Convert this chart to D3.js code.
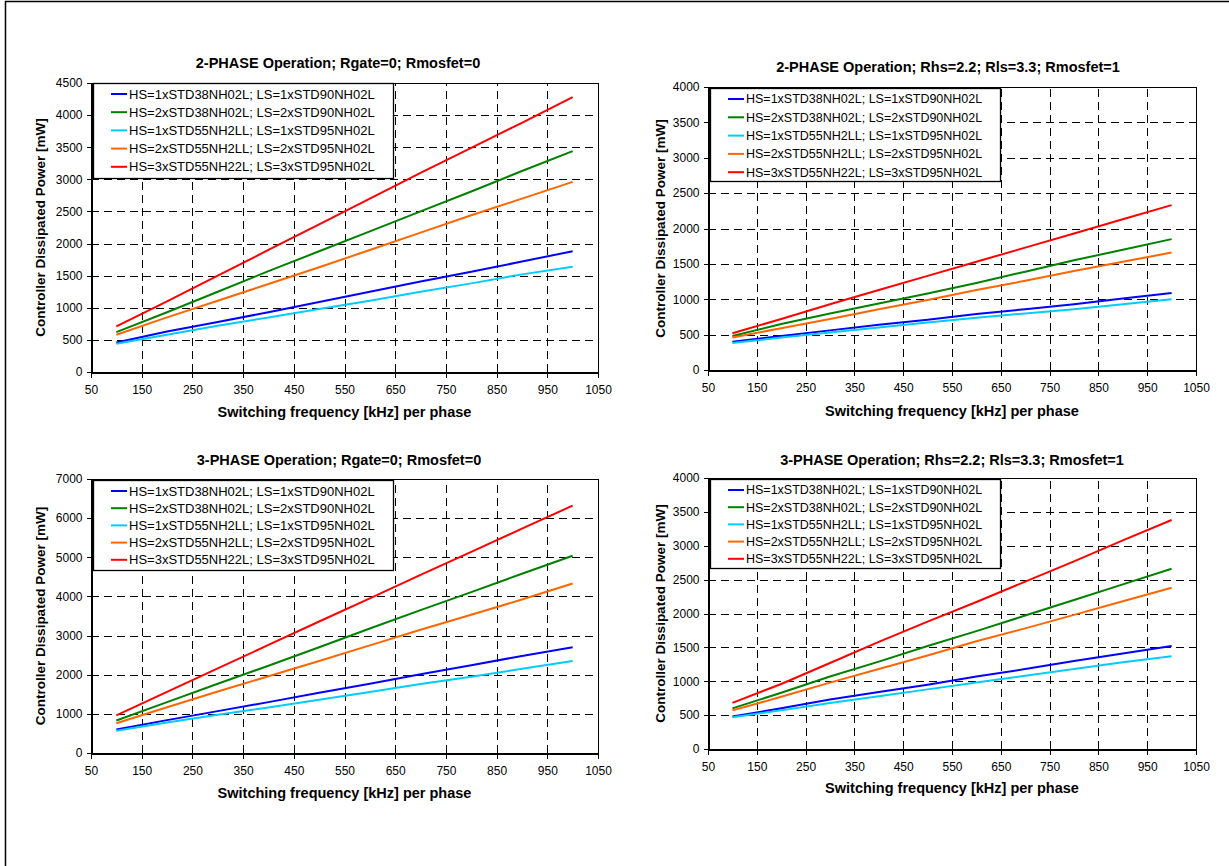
<!DOCTYPE html>
<html>
<head>
<meta charset="utf-8">
<script src="https://cdn.jsdelivr.net/npm/d3@7"></script>
<style>
	body { margin: 0; background: #fff; }
	svg { display: block; }
	text { font-family: Arial, "Liberation Sans", sans-serif; fill: #000; }
</style>
</head>
<body>
<div id="container"></div>
<script>

// ==============
//	DATA
// ==============

var freq = [100, 200, 300, 400, 500, 600, 700, 800, 900, 1000];

var seriesNames = [
	"HS=1xSTD38NH02L; LS=1xSTD90NH02L",
	"HS=2xSTD38NH02L; LS=2xSTD90NH02L",
	"HS=1xSTD55NH2LL; LS=1xSTD95NH02L",
	"HS=2xSTD55NH2LL; LS=2xSTD95NH02L",
	"HS=3xSTD55NH22L; LS=3xSTD95NH02L"
];

var xTicks = [50, 150, 250, 350, 450, 550, 650, 750, 850, 950, 1050];

var yTicks4500 = [0, 500, 1000, 1500, 2000, 2500, 3000, 3500, 4000, 4500];
var yTicks4000 = [0, 500, 1000, 1500, 2000, 2500, 3000, 3500, 4000];
var yTicks7000 = [0, 1000, 2000, 3000, 4000, 5000, 6000, 7000];

// 2-PHASE; Rgate=0; Rmosfet=0
var ph2a_1x38 = [460, 630, 780, 930, 1090, 1250, 1410, 1560, 1720, 1880];
var ph2a_2x38 = [620, 930, 1250, 1570, 1880, 2190, 2500, 2810, 3130, 3440];
var ph2a_1x55 = [440, 580, 720, 850, 980, 1110, 1250, 1380, 1520, 1640];
var ph2a_2x55 = [580, 850, 1110, 1370, 1630, 1900, 2170, 2440, 2700, 2960];
var ph2a_3x55 = [710, 1100, 1500, 1900, 2300, 2700, 3100, 3490, 3880, 4280];

// 2-PHASE; Rhs=2.2; Rls=3.3; Rmosfet=1
var ph2b_1x38 = [400, 480, 560, 640, 710, 790, 860, 930, 1010, 1090];
var ph2b_2x38 = [480, 650, 800, 940, 1080, 1230, 1390, 1550, 1700, 1850];
var ph2b_1x55 = [380, 460, 530, 600, 670, 740, 800, 860, 930, 1000];
var ph2b_2x55 = [460, 590, 720, 860, 990, 1130, 1260, 1400, 1530, 1660];
var ph2b_3x55 = [520, 720, 930, 1130, 1330, 1530, 1730, 1930, 2130, 2330];

// 3-PHASE; Rgate=0; Rmosfet=0
var ph3a_1x38 = [600, 840, 1070, 1300, 1540, 1770, 2010, 2240, 2480, 2700];
var ph3a_2x38 = [830, 1300, 1770, 2230, 2700, 3180, 3650, 4110, 4580, 5040];
var ph3a_1x55 = [570, 780, 980, 1160, 1360, 1560, 1760, 1950, 2150, 2350];
var ph3a_2x55 = [760, 1170, 1570, 1960, 2350, 2750, 3150, 3530, 3920, 4330];
var ph3a_3x55 = [960, 1560, 2160, 2760, 3360, 3950, 4550, 5140, 5730, 6320];

// 3-PHASE; Rhs=2.2; Rls=3.3; Rmosfet=1
var ph3b_1x38 = [480, 600, 730, 840, 950, 1070, 1180, 1300, 1410, 1520];
var ph3b_2x38 = [600, 830, 1070, 1290, 1520, 1740, 1970, 2200, 2430, 2660];
var ph3b_1x55 = [470, 570, 680, 780, 880, 980, 1080, 1180, 1280, 1370];
var ph3b_2x55 = [570, 770, 980, 1180, 1380, 1590, 1780, 1980, 2180, 2380];
var ph3b_3x55 = [680, 960, 1270, 1580, 1880, 2170, 2470, 2770, 3080, 3380];

// ==============
//	OPTIONS
// ==============

var W = 1229, H = 866;

var palSeries = ["#0000ff", "#008000", "#00ccff", "#ff6600", "#ff0000"];

var xTitle = "Switching frequency [kHz] per phase",
	yTitle = "Controller Dissipated Power [mW]";

var panels = [
	{
		title: "2-PHASE Operation; Rgate=0; Rmosfet=0",
		series: [ph2a_1x38, ph2a_2x38, ph2a_1x55, ph2a_2x55, ph2a_3x55],
		yTicks: yTicks4500,
		plot: {x0: 91, x1: 598, y0: 83, y1: 372},
		titleX: 338, titleY: 68, xTitleY: 417, yTitleX: 45,
		legend: {x: 93, y: 83, w: 300, h: 95, font: 13, row: 18.2}
	},
	{
		title: "2-PHASE Operation; Rhs=2.2; Rls=3.3; Rmosfet=1",
		series: [ph2b_1x38, ph2b_2x38, ph2b_1x55, ph2b_2x55, ph2b_3x55],
		yTicks: yTicks4000,
		plot: {x0: 708, x1: 1196, y0: 87, y1: 370},
		titleX: 948, titleY: 72, xTitleY: 416, yTitleX: 665,
		legend: {x: 710, y: 88, w: 290, h: 93, font: 12.5, row: 18.3}
	},
	{
		title: "3-PHASE Operation; Rgate=0; Rmosfet=0",
		series: [ph3a_1x38, ph3a_2x38, ph3a_1x55, ph3a_2x55, ph3a_3x55],
		yTicks: yTicks7000,
		plot: {x0: 91, x1: 598, y0: 479, y1: 753},
		titleX: 339, titleY: 465, xTitleY: 798, yTitleX: 45,
		legend: {x: 93, y: 480, w: 300, h: 90, font: 13, row: 17.2}
	},
	{
		title: "3-PHASE Operation; Rhs=2.2; Rls=3.3; Rmosfet=1",
		series: [ph3b_1x38, ph3b_2x38, ph3b_1x55, ph3b_2x55, ph3b_3x55],
		yTicks: yTicks4000,
		plot: {x0: 708, x1: 1196, y0: 478, y1: 749},
		titleX: 952, titleY: 465, xTitleY: 793, yTitleX: 665,
		legend: {x: 710, y: 479, w: 290, h: 89, font: 12.5, row: 17.2}
	}
];

// ==============
//	DRAW
// ==============

var svg = d3.select("#container").append("svg")
	.attr("width", W)
	.attr("height", H);

svg.append("rect")
	.attr("width", W)
	.attr("height", H)
	.attr("fill", "#fff");

// outer frame (only top and left edges are visible)
svg.append("path")
	.attr("d", "M5.5," + H + "V1.5H" + W)
	.attr("fill", "none")
	.attr("stroke", "#000")
	.attr("stroke-width", 1.5);

panels.forEach(drawPanel);

// ==============
//	FUNCTIONS
// ==============

function drawPanel(p) {

	var pl = p.plot,
		yMax = p.yTicks[p.yTicks.length - 1];

	var x = d3.scaleLinear().domain([50, 1050]).range([pl.x0, pl.x1]),
		y = d3.scaleLinear().domain([0, yMax]).range([pl.y1, pl.y0]);

	var g = svg.append("g");

	// === grid
	var grid = g.append("g")
		.attr("stroke", "#000")
		.attr("stroke-width", 1)
		.attr("stroke-dasharray", "8,5")
		.attr("shape-rendering", "crispEdges");

	grid.selectAll("line.v")
		.data(xTicks.slice(1, -1))
		.join("line")
		.attr("class", "v")
		.attr("x1", d => Math.round(x(d)) + 0.5)
		.attr("x2", d => Math.round(x(d)) + 0.5)
		.attr("y1", pl.y1)
		.attr("y2", pl.y0);

	grid.selectAll("line.h")
		.data(p.yTicks.slice(1, -1))
		.join("line")
		.attr("class", "h")
		.attr("y1", d => Math.round(y(d)) + 0.5)
		.attr("y2", d => Math.round(y(d)) + 0.5)
		.attr("x1", pl.x0)
		.attr("x2", pl.x1);

	// === plot border
	g.append("rect")
		.attr("x", pl.x0 + 0.5)
		.attr("y", pl.y0 + 0.5)
		.attr("width", pl.x1 - pl.x0)
		.attr("height", pl.y1 - pl.y0)
		.attr("fill", "none")
		.attr("stroke", "#000")
		.attr("shape-rendering", "crispEdges");

	// === axes
	var yAxis = g.append("g")
		.attr("transform", "translate(" + (pl.x0 + 0.5) + ",0)")
		.call(d3.axisLeft(y).tickValues(p.yTicks).tickSize(5).tickSizeOuter(0).tickPadding(4).tickFormat(d3.format("d")));

	var xAxis = g.append("g")
		.attr("transform", "translate(0," + (pl.y1 + 0.5) + ")")
		.call(d3.axisBottom(x).tickValues(xTicks).tickSize(5).tickSizeOuter(0).tickPadding(8).tickFormat(d3.format("d")));

	[yAxis, xAxis].forEach(function(a) {
		a.attr("font-size", 12).attr("font-family", "Arial, 'Liberation Sans', sans-serif");
		a.select(".domain").attr("stroke", "#000").attr("shape-rendering", "crispEdges");
		a.selectAll(".tick line").attr("stroke", "#000").attr("shape-rendering", "crispEdges");
		a.selectAll(".tick text").attr("fill", "#000");
	});

	// === lines
	var line = d3.line()
		.x((d, i) => x(freq[i]))
		.y(d => y(d));

	g.append("g")
		.attr("fill", "none")
		.attr("stroke-width", 2)
		.attr("stroke-linejoin", "round")
		.selectAll("path")
			.data(p.series)
			.join("path")
			.attr("d", line)
			.attr("stroke", (d, i) => palSeries[i]);

	// === legend
	var lg = p.legend,
		legend = g.append("g")
			.attr("transform", "translate(" + lg.x + "," + lg.y + ")");

	legend.append("rect")
		.attr("x", 0.5)
		.attr("y", 0.5)
		.attr("width", lg.w)
		.attr("height", lg.h)
		.attr("fill", "#fff")
		.attr("stroke", "#000")
		.attr("stroke-width", 1.3);

	var item = legend.selectAll("g.item")
		.data(seriesNames)
		.join("g")
		.attr("class", "item")
		.attr("transform", (d, i) => "translate(0," + (11 + i * lg.row) + ")");

	item.append("line")
		.attr("x1", 18)
		.attr("x2", 34)
		.attr("stroke", (d, i) => palSeries[i])
		.attr("stroke-width", 2);

	item.append("text")
		.attr("x", 36)
		.attr("dy", "0.35em")
		.style("font-size", lg.font + "px")
		.text(d => d);

	// === titles
	g.append("text")
		.attr("x", p.titleX)
		.attr("y", p.titleY)
		.attr("text-anchor", "middle")
		.style("font-size", "14.5px")
		.style("font-weight", "bold")
		.text(p.title);

	g.append("text")
		.attr("x", (pl.x0 + pl.x1) / 2)
		.attr("y", p.xTitleY)
		.attr("text-anchor", "middle")
		.style("font-size", "14.5px")
		.style("font-weight", "bold")
		.text(xTitle);

	g.append("text")
		.attr("transform", "translate(" + p.yTitleX + "," + ((pl.y0 + pl.y1) / 2) + ") rotate(-90)")
		.attr("text-anchor", "middle")
		.style("font-size", "13.5px")
		.style("font-weight", "bold")
		.text(yTitle);
}

</script>
</body>
</html>
